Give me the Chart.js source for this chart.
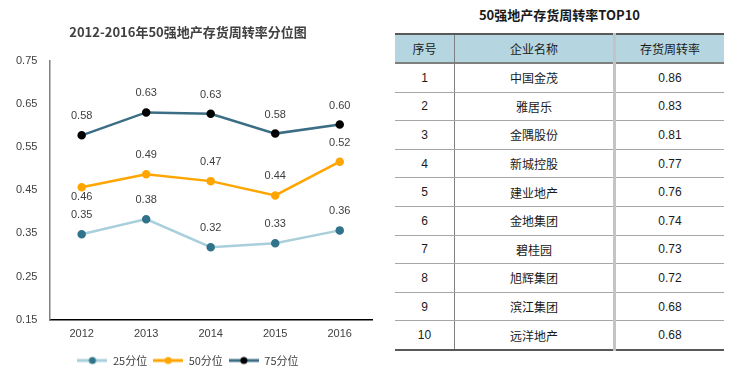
<!DOCTYPE html>
<html>
<head>
<meta charset="utf-8">
<script src="https://cdn.jsdelivr.net/npm/chart.js@4.4.0/dist/chart.umd.min.js"></script>
<style>
    body { margin: 0; background: #fff; width: 744px; height: 376px; overflow: hidden; position: relative; }
    #chartBox { position: absolute; left: 0; top: 0; width: 380px; height: 376px; }
    #tableTitle { position: absolute; left: 395px; top: 5px; width: 329px; text-align: center;
        font: bold 13px "Noto Sans CJK SC", sans-serif; color: #1a1a1a; }
    #topTable { position: absolute; left: 395px; top: 33px; width: 329px; border-collapse: collapse;
        font: 12px "Noto Sans CJK SC", "Liberation Sans", sans-serif; color: #1a1a1a; }
    #topTable th, #topTable td { text-align: center; padding: 0; height: 27.6px; border-bottom: 1px solid #a6a6a6; }
    #topTable th { background: #b5d5e0; font-weight: normal; height: 27px; border-top: 2px solid #595959; border-bottom: 2px solid #7f7f7f; }
    #topTable tr:last-child td { border-bottom: 2px solid #595959; }
    #topTable .c1 { width: 59px; border-right: 1px solid #7f7f7f; }
    #topTable .c2 { width: 158px; border-right: 3px solid #c4c4c4; }
    #topTable td.num { font-family: "Liberation Sans", sans-serif; }
</style>
</head>
<body>
<div id="chartBox"><canvas id="quantileChart"></canvas></div>
<div id="tableTitle">50强地产存货周转率TOP10</div>
<table id="topTable">
    <thead><tr><th class="c1">序号</th><th class="c2">企业名称</th><th>存货周转率</th></tr></thead>
    <tbody id="topBody"></tbody>
</table>
<script>
// Inventory turnover quantiles of the top 50 developers
const years = ['2012', '2013', '2014', '2015', '2016'];
const p25 = [0.348, 0.383, 0.318, 0.327, 0.357];
const p50 = [0.457, 0.487, 0.471, 0.438, 0.516];
const p75 = [0.577, 0.630, 0.627, 0.581, 0.602];
const yTicks = [0.15, 0.25, 0.35, 0.45, 0.55, 0.65, 0.75];

// TOP10 table
const ranks = [1, 2, 3, 4, 5, 6, 7, 8, 9, 10];
const companies = ['中国金茂', '雅居乐', '金隅股份', '新城控股', '建业地产', '金地集团', '碧桂园', '旭辉集团', '滨江集团', '远洋地产'];
const turnover = [0.86, 0.83, 0.81, 0.77, 0.76, 0.74, 0.73, 0.72, 0.68, 0.68];

const textColor = '#404040';
const numFont = '"Liberation Sans", sans-serif';

// fill the table
const tbody = document.getElementById('topBody');
ranks.forEach((r, i) => {
    const row = document.createElement('tr');
    row.innerHTML = `
        <td class="c1 num">${r}</td>
        <td class="c2">${companies[i]}</td>
        <td class="num">${turnover[i].toFixed(2)}</td>
    `;
    tbody.appendChild(row);
});

// legend icon: short line with a dot in the middle
function legendIcon(lineColor, dotColor) {
    const c = document.createElement('canvas');
    c.width = 30; c.height = 10;
    const g = c.getContext('2d');
    g.strokeStyle = lineColor;
    g.lineWidth = 3;
    g.beginPath(); g.moveTo(0, 5); g.lineTo(30, 5); g.stroke();
    g.fillStyle = dotColor;
    g.beginPath(); g.arc(15, 5, 3.5, 0, Math.PI * 2); g.fill();
    return c;
}

// value labels above the points (first median point sits below)
const valueLabels = {
    id: 'valueLabels',
    afterDatasetsDraw(chart) {
        const ctx = chart.ctx;
        ctx.save();
        ctx.font = '11px ' + numFont;
        ctx.fillStyle = textColor;
        ctx.textAlign = 'center';
        ctx.textBaseline = 'middle';
        chart.data.datasets.forEach((ds, di) => {
            chart.getDatasetMeta(di).data.forEach((pt, i) => {
                const below = (di === 1 && i === 0);
                ctx.fillText(ds.data[i].toFixed(2), pt.x, below ? pt.y + 10 : pt.y - 19);
            });
        });
        ctx.restore();
    }
};

const series = [
    { label: '25分位', data: p25, line: '#a8cfdb', dot: '#31738a' },
    { label: '50分位', data: p50, line: '#ffa500', dot: '#ffa500' },
    { label: '75分位', data: p75, line: '#3b6e84', dot: '#000000' }
];
const icons = series.map(s => legendIcon(s.line, s.dot));

new Chart(document.getElementById('quantileChart'), {
    type: 'line',
    data: {
        labels: years,
        datasets: series.map(s => ({
            label: s.label,
            data: s.data,
            borderColor: s.line,
            backgroundColor: s.dot,
            pointBackgroundColor: s.dot,
            pointBorderColor: s.dot,
            pointStyle: 'circle',
            borderWidth: 2.5,
            pointRadius: 3,
            tension: 0
        }))
    },
    options: {
        responsive: true,
        maintainAspectRatio: false,
        animation: false,
        layout: { padding: { left: 4, right: 8, top: 24, bottom: 0 } },
        scales: {
            x: {
                offset: true,
                grid: { display: false, drawTicks: false },
                border: { color: '#000', width: 1.5 },
                ticks: { color: textColor, font: { family: numFont, size: 11 }, padding: 8 }
            },
            y: {
                min: 0.15,
                max: 0.75,
                grid: { display: false, drawTicks: false },
                border: { color: '#808080', width: 1.5 },
                afterBuildTicks: axis => { axis.ticks = yTicks.map(v => ({ value: v })); },
                ticks: {
                    color: textColor,
                    font: { family: numFont, size: 11 },
                    padding: 12,
                    callback: v => v.toFixed(2)
                }
            }
        },
        plugins: {
            title: {
                display: true,
                text: '2012-2016年50强地产存货周转率分位图',
                color: textColor,
                font: { family: '"Noto Sans CJK SC", sans-serif', size: 13, weight: 'bold' },
                padding: { top: 0, bottom: 21 }
            },
            legend: {
                position: 'bottom',
                labels: {
                    usePointStyle: true,
                    pointStyleWidth: 30,
                    boxHeight: 10,
                    color: textColor,
                    font: { family: '"Noto Sans CJK SC", sans-serif', size: 11 },
                    padding: 6,
                    generateLabels: chart => chart.data.datasets.map((ds, i) => ({
                        text: ds.label,
                        pointStyle: icons[i],
                        fillStyle: ds.backgroundColor,
                        strokeStyle: ds.borderColor,
                        lineWidth: 0,
                        hidden: false,
                        datasetIndex: i,
                        fontColor: textColor
                    }))
                }
            },
            tooltip: { enabled: false }
        }
    },
    plugins: [valueLabels]
});
</script>
</body>
</html>
